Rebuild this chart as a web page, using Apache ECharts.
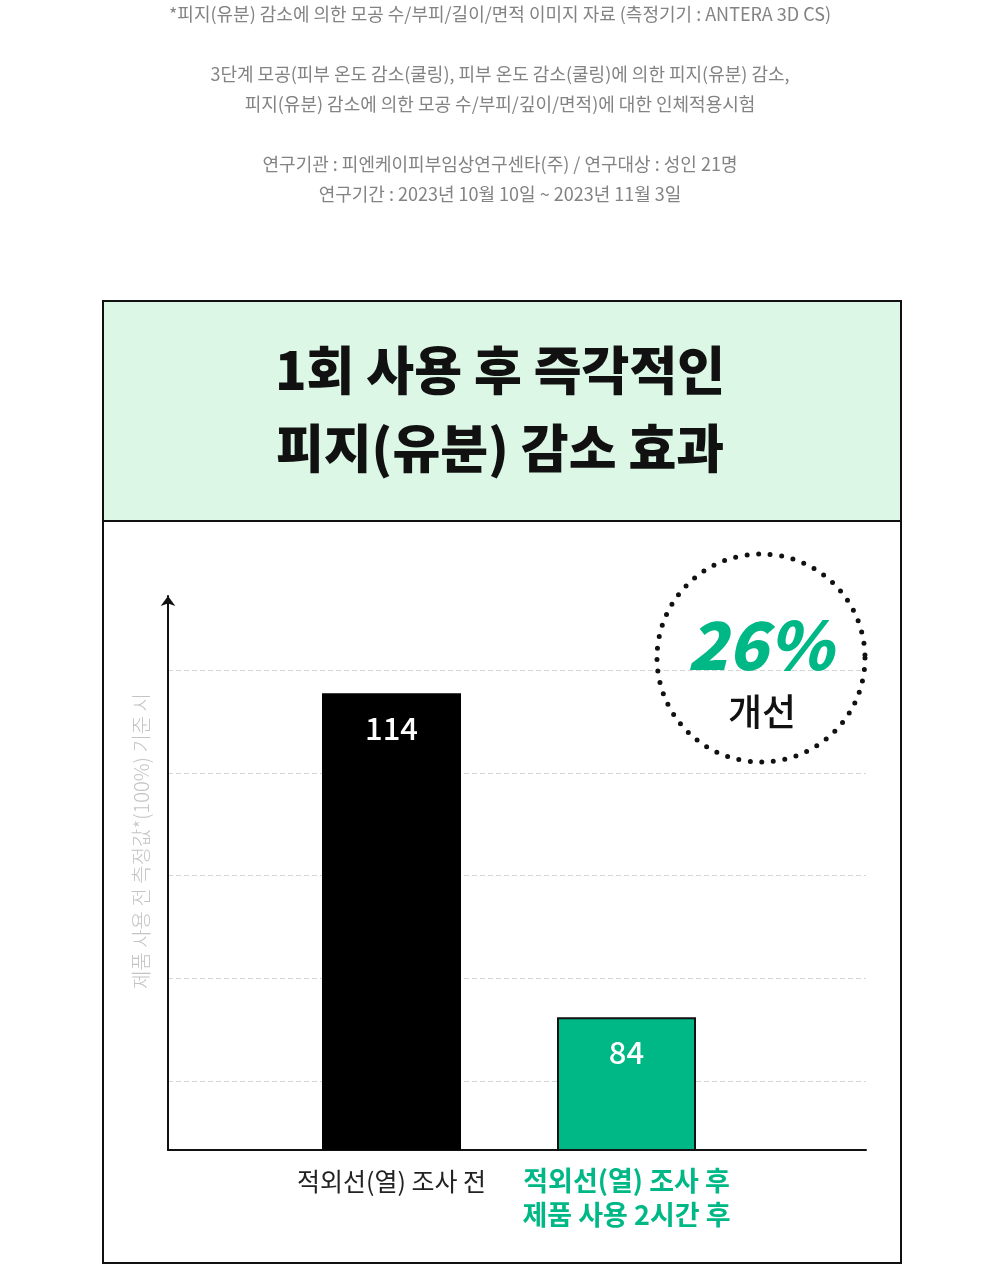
<!DOCTYPE html>
<html><head><meta charset="utf-8">
<script src="https://cdn.jsdelivr.net/npm/echarts@6/dist/echarts.min.js"></script>
<style>html,body{margin:0;padding:0;background:#fff}#c{width:1000px;height:1280px}</style>
</head><body><div id="c"></div>
<script>
const noteLines = [
  '*피지(유분) 감소에 의한 모공 수/부피/길이/면적 이미지 자료 (측정기기 : ANTERA 3D CS)',
  '3단계 모공(피부 온도 감소(쿨링), 피부 온도 감소(쿨링)에 의한 피지(유분) 감소,',
  '피지(유분) 감소에 의한 모공 수/부피/깊이/면적)에 대한 인체적용시험',
  '연구기관 : 피엔케이피부임상연구센타(주) / 연구대상 : 성인 21명',
  '연구기간 : 2023년 10월 10일 ~ 2023년 11월 3일'
];
const titleLines = ['1회 사용 후 즉각적인', '피지(유분) 감소 효과'];
const categories = ['적외선(열) 조사 전', '적외선(열) 조사 후\n제품 사용 2시간 후'];
const values = [114, 84];
const improvementValue = '26%';
const improvementLabel = '개선';
const yAxisName = '제품 사용 전 측정값*(100%) 기준 시';

const GREEN = '#00b886';
const FONT = '"Noto Sans CJK KR", "Noto Sans", sans-serif';
const chart = echarts.init(document.getElementById('c'), null, {renderer: 'canvas'});

const noteY = [14, 74, 104, 164, 194];
const graphic = [];
noteLines.forEach((t, i) => graphic.push({
  type: 'text', x: 500, y: noteY[i], z: 10,
  style: {text: t, fill: '#838383', font: '400 18px ' + FONT, align: 'center', verticalAlign: 'middle'}
}));
graphic.push({type: 'rect', shape: {x: 103, y: 301, width: 798, height: 220}, style: {fill: '#dcf7e6', stroke: 'none'}, z: 0});
graphic.push({type: 'rect', shape: {x: 103, y: 301, width: 798, height: 962}, style: {fill: 'none', stroke: '#111', lineWidth: 2}, z: 5});
graphic.push({type: 'line', shape: {x1: 103, y1: 521, x2: 901, y2: 521}, style: {stroke: '#111', lineWidth: 2}, z: 5});
[370, 448].forEach((y, i) => graphic.push({
  type: 'text', x: 500, y: y, z: 10,
  style: {text: titleLines[i], fill: '#111', font: '900 52px ' + FONT, align: 'center', verticalAlign: 'middle'}
}));
graphic.push({type: 'circle', shape: {cx: 761, cy: 658, r: 104}, z: 10,
  style: {fill: 'none', stroke: '#111', lineWidth: 5, lineDash: [0, 11.6], lineCap: 'round'}});
graphic.push({type: 'text', x: 760, y: 645, z: 10,
  style: {text: improvementValue, fill: GREEN, font: 'italic 900 66px ' + FONT, align: 'center', verticalAlign: 'middle'}});
graphic.push({type: 'text', x: 762, y: 712, z: 10,
  style: {text: improvementLabel, fill: '#111', font: '500 37px ' + FONT, align: 'center', verticalAlign: 'middle'}});

const option = {
  animation: false,
  backgroundColor: '#fff',
  textStyle: {fontFamily: FONT},
  graphic: graphic,
  grid: [
    {left: 168, right: 134, top: 596, bottom: 130},
    {left: 168, right: 134, top: 670, bottom: 199},
    {left: 274, right: 256, top: 596, bottom: 130}
  ],
  xAxis: [
    {gridIndex: 0, type: 'value', min: 0, max: 1, axisLine: {show: true, onZero: false, lineStyle: {color: '#111', width: 2}}, axisTick: {show: false}, axisLabel: {show: false}, splitLine: {show: false}},
    {gridIndex: 1, type: 'value', min: 0, max: 1, show: false},
    {gridIndex: 2, type: 'category', data: categories, axisLine: {show: false}, axisTick: {show: false},
      axisLabel: {margin: 14, interval: 0,
        formatter: (v, i) => i === 0 ? v.split('\n').map(l => '{a|' + l + '}').join('\n') : v.split('\n').map(l => '{b|' + l + '}').join('\n'),
        rich: {
          a: {color: '#222', fontSize: 25, fontFamily: FONT, fontWeight: 400, lineHeight: 34},
          b: {color: GREEN, fontSize: 27, fontFamily: FONT, fontWeight: 700, lineHeight: 34}
        }}}
  ],
  yAxis: [
    {gridIndex: 0, type: 'value', min: 0, max: 1,
      axisLine: {show: true, symbol: ['none', 'arrow'], symbolSize: [11, 10], lineStyle: {color: '#111', width: 2}},
      axisTick: {show: false}, axisLabel: {show: false}, splitLine: {show: false},
      name: yAxisName, nameLocation: 'middle', nameGap: 17, nameRotate: 90,
      nameTextStyle: {color: '#c4c4c4', fontSize: 20, fontFamily: FONT, fontWeight: 300, padding: [0, 0, 0, 64]}},
    {gridIndex: 1, type: 'value', min: 0, max: 4, interval: 1,
      axisLine: {show: false}, axisTick: {show: false}, axisLabel: {show: false},
      splitLine: {show: true, lineStyle: {color: '#d6d6d6', type: [5, 3], width: 1.2}}},
    {gridIndex: 2, type: 'value', min: 71.7, max: 123, show: false}
  ],
  series: [{
    type: 'bar', xAxisIndex: 2, yAxisIndex: 2, barWidth: 139, z: 5,
    data: values.map((v, i) => ({value: v, itemStyle: i === 0 ? {color: '#000'} : {color: GREEN, borderColor: '#111', borderWidth: 2}})),
    label: {show: true, position: 'insideTop', distance: 20, color: '#fff', fontSize: 31, fontWeight: 500, fontFamily: FONT}
  }]
};
chart.setOption(option);
</script></body></html>
